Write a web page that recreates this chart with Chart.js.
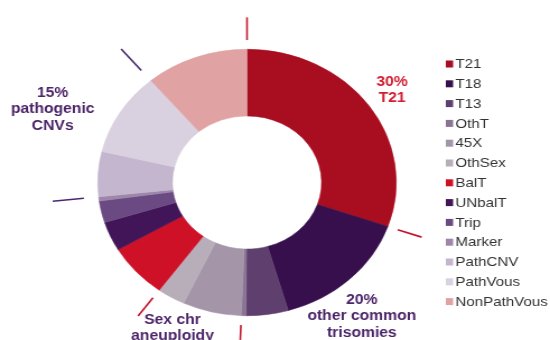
<!DOCTYPE html>
<html>
<head>
<meta charset="utf-8">
<script src="https://cdn.jsdelivr.net/npm/chart.js@4.4.0/dist/chart.umd.min.js"></script>
<style>
    html, body { margin: 0; padding: 0; background: #fff; overflow: hidden; }
    /* the original picture is stretched horizontally, so the canvas is too */
    #wrap { width: 491px; height: 340px; transform: scaleX(1.1202); transform-origin: 0 0; }
</style>
</head>
<body>
<div id="wrap"><canvas id="donutChart" width="491" height="340"></canvas></div>
<script>
// ========================================
// Abnormal karyotype breakdown - doughnut
// ========================================

const categories = ['T21', 'T18', 'T13', 'OthT', '45X', 'OthSex', 'BalT',
    'UNbalT', 'Trip', 'Marker', 'PathCNV', 'PathVous', 'NonPathVous'];
const shares = [30, 15, 4.5, 0.5, 6.3, 3, 6.5, 3.5, 2.6, 0.5, 5.4, 10, 11];
const sliceColors = ['#A80D20', '#380F4D', '#5E3F6E', '#8A7494', '#A496A8', '#B8AEB9',
    '#CF1128', '#421458', '#6B4A84', '#9C86AA', '#C4B6CE', '#D9D0E0', '#E0A2A2'];

// group labels: text lines, colour, position (canvas coords)
const groupLabels = [
    { lines: ['30%', 'T21'], color: '#D01E32', x: 350, y: 82 },
    { lines: ['20%', 'other common', 'trisomies'], color: '#4B2468', x: 323, y: 300 },
    { lines: ['Sex chr', 'aneuploidy'], color: '#4B2468', x: 154, y: 320 },
    { lines: ['15%', 'pathogenic', 'CNVs'], color: '#4B2468', x: 47, y: 93 }
];
// group separators: slice index whose start angle gets a tick
const separators = [
    { index: 0, color: '#C4142C' },
    { index: 1, color: '#C4142C' },
    { index: 4, color: '#C4142C' },
    { index: 6, color: '#C4142C' },
    { index: 10, color: '#4A2870', inner: 1.1, outer: 1.31 },
    { index: 12, color: '#4A2870', inner: 1.1, outer: 1.31 }
];

const FONT = '"Liberation Sans", Arial, sans-serif';

// Separator ticks + group labels
const annotations = {
    id: 'annotations',
    afterDatasetsDraw(chart) {
        const ctx = chart.ctx;
        const arcs = chart.getDatasetMeta(0).data;
        ctx.save();
        separators.forEach(sep => {
            const arc = arcs[sep.index];
            const a = arc.startAngle;
            const r1 = arc.outerRadius * (sep.inner || 1.07);
            const r2 = arc.outerRadius * (sep.outer || 1.24);
            ctx.strokeStyle = sep.color;
            ctx.lineWidth = 1.6;
            ctx.beginPath();
            ctx.moveTo(arc.x + r1 * Math.cos(a), arc.y + r1 * Math.sin(a));
            ctx.lineTo(arc.x + r2 * Math.cos(a), arc.y + r2 * Math.sin(a));
            ctx.stroke();
        });

        ctx.font = 'bold 14px ' + FONT;
        ctx.textAlign = 'center';
        ctx.textBaseline = 'middle';
        groupLabels.forEach(lbl => {
            ctx.fillStyle = lbl.color;
            lbl.lines.forEach((line, i) => ctx.fillText(line, lbl.x, lbl.y + i * 16.5));
        });
        ctx.restore();
    }
};

// Legend on the right, drawn by hand to place it exactly
const sideLegend = {
    id: 'sideLegend',
    afterDraw(chart) {
        const ctx = chart.ctx;
        ctx.save();
        ctx.font = '13.5px ' + FONT;
        ctx.textBaseline = 'middle';
        ctx.textAlign = 'left';
        chart.data.labels.forEach((label, i) => {
            const y = 64 + i * 19.8;
            ctx.fillStyle = sliceColors[i];
            ctx.fillRect(398, y - 3.5, 6.5, 7);
            ctx.fillStyle = '#333333';
            ctx.fillText(label, 406.5, y + 0.5);
        });
        ctx.restore();
    }
};

new Chart(document.getElementById('donutChart'), {
    type: 'doughnut',
    data: {
        labels: categories,
        datasets: [{
            data: shares,
            backgroundColor: sliceColors,
            borderColor: sliceColors,
            borderWidth: 0.6,
            hoverOffset: 0
        }]
    },
    options: {
        responsive: false,
        animation: false,
        cutout: '50%',
        layout: {
            padding: { left: 87, right: 137, top: 49, bottom: 24 }
        },
        plugins: {
            legend: { display: false },
            tooltip: { enabled: false }
        }
    },
    plugins: [annotations, sideLegend]
});
</script>
</body>
</html>
